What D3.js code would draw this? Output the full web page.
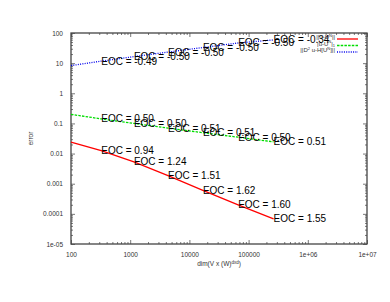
<!DOCTYPE html>
<html><head><meta charset="utf-8">
<script src="https://cdn.jsdelivr.net/npm/d3@7"></script>
<style>body{margin:0;background:#fff}svg{display:block}text{font-family:"Liberation Sans",Arial,sans-serif}</style>
</head><body>
<svg id="c" width="390" height="302"></svg>
<script>
const dims = [100, 324, 1156, 4356, 16900, 66564, 264196];
const errL2 = [0.024, 0.01251, 0.005296, 0.00186, 0.000605, 0.0001997, 0.0000682];
const errH1 = [0.2, 0.1414, 0.1, 0.0702, 0.0493, 0.0349, 0.0245];
const errH2 = [8.3, 11.65, 16.48, 23.3, 32.96, 46.6, 59.0];
const eocL2 = ["0.94", "1.24", "1.51", "1.62", "1.60", "1.55"];
const eocH1 = ["0.50", "0.50", "0.51", "0.51", "0.50", "0.51"];
const eocH2 = ["-0.49", "-0.50", "-0.50", "-0.50", "-0.50", "-0.34"];
const xTicks = [100, 1000, 10000, 100000, 1e6, 1e7];
const xTickLabels = ["100", "1000", "10000", "100000", "1e+06", "1e+07"];
const yTicks = [1e-5, 1e-4, 1e-3, 1e-2, 0.1, 1, 10, 100];
const yTickLabels = ["1e-05", "0.0001", "0.001", "0.01", "0.1", "1", "10", "100"];

const svg = d3.select("#c");
const L = 71, R = 367, T = 33, B = 244;
const x = d3.scaleLog().domain([100, 1e7]).range([L, R]);
const y = d3.scaleLog().domain([1e-5, 100]).range([B, T]);
const axisCol = "#555";

// minor ticks
const minorX = [], minorY = [];
for (let d = 100; d < 1e7; d *= 10) for (let k = 2; k <= 9; k++) minorX.push(d * k);
for (let d = 1e-5; d < 99; d *= 10) for (let k = 2; k <= 9; k++) minorY.push(d * k);

const g = svg.append("g");
// axes via d3 axis generators (ticks inward)
const axB = d3.axisBottom(x).tickValues(xTicks).tickSize(-4).tickFormat((d, i) => xTickLabels[i]).tickPadding(8);
const axT = d3.axisTop(x).tickValues(xTicks).tickSize(-4).tickFormat("");
const axLf = d3.axisLeft(y).tickValues(yTicks).tickSize(-4).tickFormat((d, i) => yTickLabels[i]).tickPadding(8);
const axRt = d3.axisRight(y).tickValues(yTicks).tickSize(-4).tickFormat("");
const mB = d3.axisBottom(x).tickValues(minorX).tickSize(-2).tickFormat("");
const mT = d3.axisTop(x).tickValues(minorX).tickSize(-2).tickFormat("");
const mL = d3.axisLeft(y).tickValues(minorY).tickSize(-2).tickFormat("");
const mR = d3.axisRight(y).tickValues(minorY).tickSize(-2).tickFormat("");

function styleAxis(sel) {
  sel.selectAll(".domain").remove();
  sel.selectAll("line").attr("stroke", axisCol).attr("stroke-width", 0.8);
  sel.selectAll("text").attr("fill", "#333").style("font-size", "6.5px");
}
[[axB, `translate(0,${B})`], [axT, `translate(0,${T})`], [axLf, `translate(${L},0)`], [axRt, `translate(${R},0)`],
 [mB, `translate(0,${B})`], [mT, `translate(0,${T})`], [mL, `translate(${L},0)`], [mR, `translate(${R},0)`]]
 .forEach(([a, t]) => g.append("g").attr("transform", t).call(a).call(styleAxis));

// frame
svg.append("rect").attr("x", L).attr("y", T).attr("width", R - L).attr("height", B - T)
  .attr("fill", "none").attr("stroke", "#444").attr("stroke-width", 1.3);

// axis labels
svg.append("text").attr("transform", `translate(33,${(T + B) / 2}) rotate(-90)`).attr("text-anchor", "middle")
  .style("font-size", "6.5px").attr("fill", "#333").text("error");
const xl = svg.append("text").attr("x", (L + R) / 2).attr("y", 266).attr("text-anchor", "middle")
  .style("font-size", "6.5px").attr("fill", "#333");
xl.append("tspan").text("dim(V x (W)");
xl.append("tspan").attr("dy", -2.5).style("font-size", "4.5px").text("dxd");
xl.append("tspan").attr("dy", 2.5).text(")");

const series = [
  {vals: errL2, eoc: eocL2, color: "#ff0000", dash: null, w: 1.3},
  {vals: errH1, eoc: eocH1, color: "#00dd00", dash: "2.5,1.2", w: 1.3},
  {vals: errH2, eoc: eocH2, color: "#0000ee", dash: "1,1.3", w: 1.3}
];
const line = d3.line().x(d => x(d[0])).y(d => y(d[1]));
series.forEach(s => {
  svg.append("path").datum(dims.map((d, i) => [d, s.vals[i]])).attr("d", line)
    .attr("fill", "none").attr("stroke", s.color).attr("stroke-width", s.w)
    .attr("stroke-dasharray", s.dash);
});
series.forEach(s => {
  s.eoc.forEach((e, i) => {
    svg.append("text").attr("x", x(dims[i + 1])).attr("y", y(s.vals[i + 1])).attr("dy", "0.35em")
      .style("font-size", "10px").attr("fill", "#000").text("EOC = " + e);
  });
});

// legend
const legY = [39, 45.5, 52];
const legParts = [
  [["||u-U", 0], ["N", 1], ["||", 0]],
  [["|u-U", 0], ["N", 1], ["|", 0], ["1", -1]],
  [["||D", 0], ["2", 1], [" u-H[U", 0], ["N", 1], ["]||", 0]]
];
series.forEach((s, i) => {
  svg.append("line").attr("x1", 337).attr("x2", 358).attr("y1", legY[i]).attr("y2", legY[i])
    .attr("stroke", s.color).attr("stroke-width", s.w).attr("stroke-dasharray", s.dash);
  const t = svg.append("text").attr("x", 335).attr("y", legY[i]).attr("dy", "0.35em")
    .attr("text-anchor", "end").style("font-size", "6px").attr("fill", "#333");
  let cur = 0;
  legParts[i].forEach(([str, sh]) => {
    const target = sh === 1 ? -2.2 : sh === -1 ? 1.5 : 0;
    t.append("tspan").attr("dy", target - cur).style("font-size", sh ? "4px" : "6px").text(str);
    cur = target;
  });
});
</script>
</body></html>
